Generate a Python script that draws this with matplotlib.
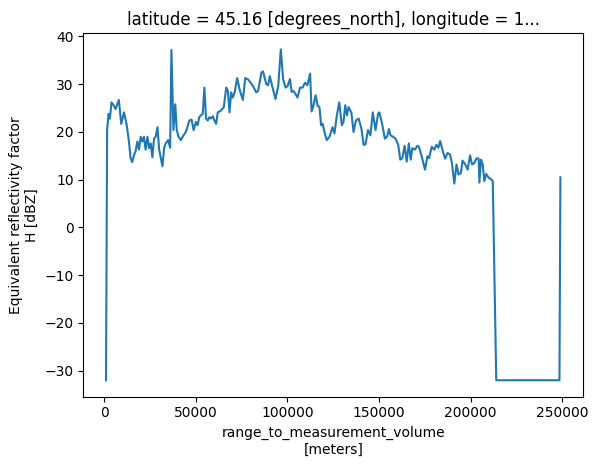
import matplotlib
matplotlib.use("Agg")
import matplotlib.pyplot as plt

range_km = [1.0, 1.6, 2.4, 3.1, 4.0, 5.3, 6.2, 8.0, 9.3, 10.8, 12.2, 13.5, 14.4, 15.3, 16.3, 17.1,
            18.1, 19.0, 19.9, 20.8, 21.7, 22.6, 23.6, 24.5, 25.4, 26.3, 27.2, 28.1, 29.1, 30.0,
            31.8, 32.7, 33.6, 34.9, 36.0, 36.7, 37.8, 38.8, 39.6, 40.6, 41.8, 43.3, 44.6, 46.5,
            47.7, 48.8, 50.1, 51.0, 51.9, 52.8, 53.8, 54.7, 55.6, 56.5, 57.4, 58.3, 59.3, 60.2,
            61.1, 62.0, 63.8, 65.3, 66.6, 67.5, 68.4, 69.3, 70.2, 71.2, 72.6, 73.9, 75.7, 77.0,
            78.5, 80.0, 81.2, 83.0, 84.0, 85.8, 86.7, 88.5, 89.5, 90.4, 91.7, 93.5, 95.0, 96.4,
            97.7, 99.0, 100.1, 101.4, 102.3, 103.2, 104.5, 105.5, 106.9, 108.3, 109.6, 110.9,
            112.4, 113.2, 114.2, 115.4, 116.5, 117.5, 118.4, 119.3, 120.2, 121.5, 123.0, 124.6,
            125.7, 127.0, 128.3, 129.7, 130.6, 131.6, 132.5, 133.4, 134.9, 136.1, 137.4, 138.9,
            140.4, 141.6, 142.6, 144.0, 145.3, 146.6, 148.1, 149.5, 150.2, 151.7, 153.2, 154.4,
            155.4, 156.3, 157.6, 159.0, 160.5, 161.6, 162.7, 164.0, 165.1, 166.3, 167.3, 168.2,
            169.6, 170.9, 171.8, 173.3, 175.1, 176.4, 177.3, 178.8, 180.1, 181.3, 182.4, 183.4,
            184.6, 186.1, 187.4, 188.7, 189.8, 191.1, 192.3, 193.4, 194.7, 195.6, 197.1, 198.4,
            199.7, 200.8, 202.0, 203.3, 204.4, 204.8, 205.7, 206.6, 207.5, 208.5, 209.9, 211.2,
            212.1, 214.0, 248.5, 249.0]
reflectivity = [-32, 20.4, 23.8, 22.8, 26.2, 25.5, 24.8, 26.7, 21.7, 24.1, 21.7, 18, 14.5, 13.7,
                15.2, 15.9, 18, 16.3, 19, 18, 19, 16.3, 19, 16.6, 17.6, 14.7, 18.6, 19, 21, 16.3,
                12.8, 16.6, 17.6, 18.3, 16.7, 37.2, 20.4, 25.8, 20.4, 19, 18.3, 19.3, 20, 22.4,
                22.6, 20.4, 22.1, 21.4, 23.1, 23.5, 23.8, 29.3, 22.8, 22.4, 23.1, 22.8, 23.3, 22.4,
                21.7, 24.1, 24.5, 25.2, 29.3, 28.6, 24.1, 28.3, 27.2, 28.3, 31.3, 28.9, 26.7, 31.3,
                31, 30.3, 29.6, 28.3, 28.6, 32.4, 32.7, 30, 29.8, 31.7, 29.6, 26.9, 29.6, 37.3,
                31, 29.3, 29.6, 31.1, 28.4, 28.6, 27.9, 27.2, 29.3, 29.3, 30.3, 29.8,
                32.2, 24.3, 25.5, 27.7, 25.5, 25.2, 21.4, 21.7, 20, 18.3, 19, 21,
                19.7, 23.5, 26.2, 21.4, 22.1, 25.6, 23.5, 25.2, 24.1, 20, 22.4, 22.8,
                20.7, 17.3, 17.4, 20.4, 19.3, 24.1, 20.4, 23.8, 24.1, 21.7, 18.6, 19,
                20.6, 19.3, 19, 18.6, 17.3, 14.2, 14.5, 17.1, 13.8, 17.6, 14.2, 16.6,
                16.3, 17.1, 16.9, 14.9, 12.1, 14.9, 14.5, 16.9, 16.3, 17.3, 16.7, 18.1,
                16.3, 14.4, 15.6, 15.3, 13.5, 9.2, 13.2, 11.1, 11.4, 14, 13.2, 12.1,
                15.1, 13.2, 13.5, 14.5, 14.4, 9.4, 14.2, 13.2, 9.7, 11.2, 10.4, 10.1,
                9.7, -32, -32, 10.5]

range_m = [r * 1000 for r in range_km]

fig, ax = plt.subplots(figsize=(5.95, 4.69), dpi=100)
fig.subplots_adjust(left=0.14, right=0.98, top=0.93, bottom=0.154)
ax.plot(range_m, reflectivity, color="#1f77b4")
ax.set_title("latitude = 45.16 [degrees_north], longitude = 1...")
ax.set_xlabel("range_to_measurement_volume\n[meters]")
ax.set_ylabel("Equivalent reflectivity factor\nH [dBZ]")
fig.savefig("out.png", dpi=100)
